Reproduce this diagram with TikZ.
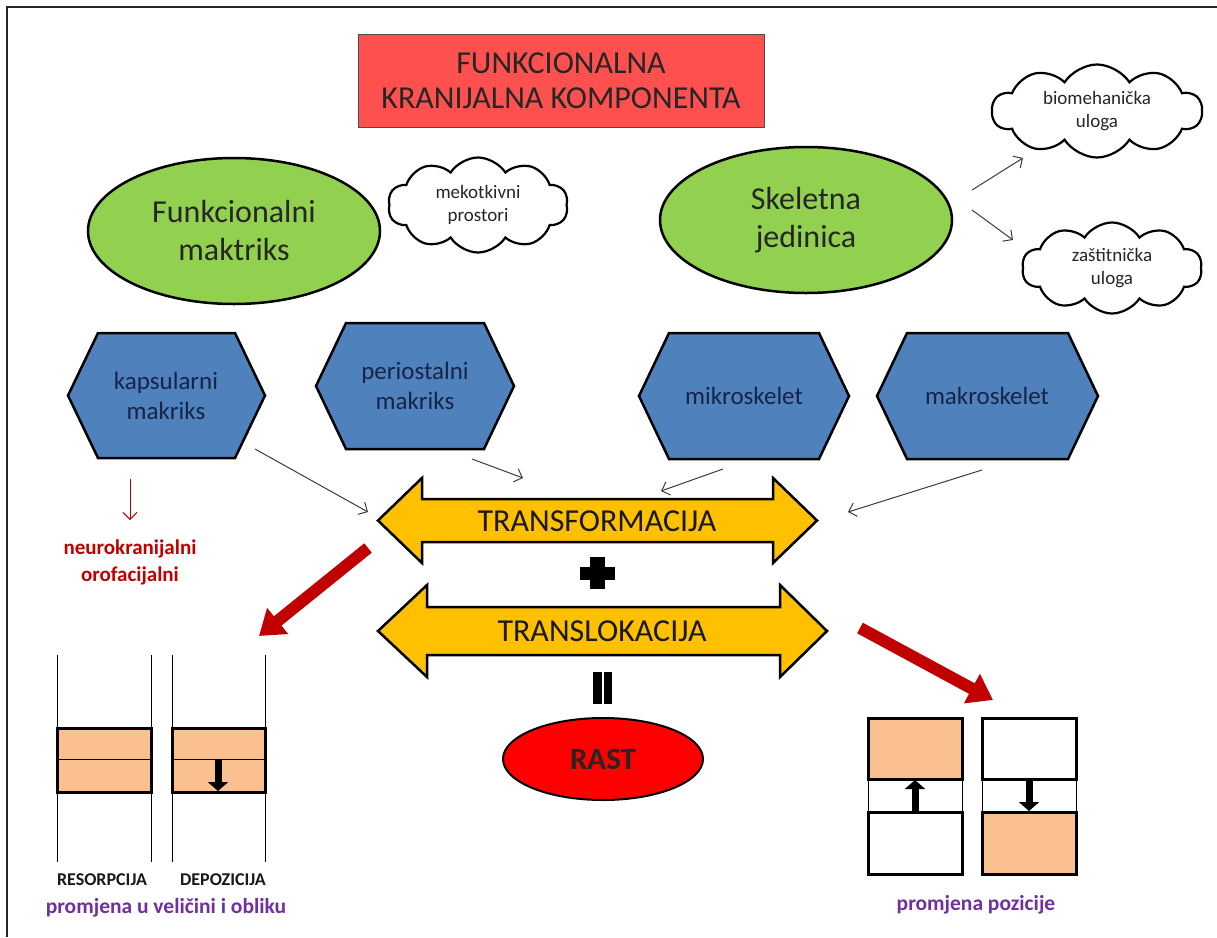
\documentclass[tikz,border=0pt]{standalone}
\usepackage{fontspec}
\setmainfont{Carlito}
\usetikzlibrary{shapes.geometric,shapes.symbols,arrows.meta}
\definecolor{titlered}{RGB}{255,80,80}
\definecolor{elgreen}{RGB}{146,208,80}
\definecolor{hexblue}{RGB}{79,129,189}
\definecolor{hextext}{RGB}{22,36,72}
\definecolor{arrowyellow}{RGB}{255,192,0}
\definecolor{darkred}{RGB}{192,0,0}
\definecolor{peach}{RGB}{250,192,144}
\definecolor{purpletext}{RGB}{112,48,160}
\definecolor{connector}{RGB}{60,60,60}
\newcommand\hexshape[4]{%
  \draw[hexbox] (#1,{(#2+#4)/2}) -- ({#1+30},#2) -- ({#3-30},#2) -- (#3,{(#2+#4)/2}) -- ({#3-30},#4) -- ({#1+30},#4) -- cycle;}
\begin{document}
\begin{tikzpicture}[x=1pt,y=-1pt,
  greenell/.style={ellipse, draw=black, line width=2.5pt, fill=elgreen, minimum width=292pt, minimum height=146pt, inner sep=0pt, align=center, text=black!85, font=\fontsize{32}{38}\selectfont},
  cloudbox/.style={cloud, cloud puffs=10, cloud puff arc=115, draw=black, line width=2.2pt, fill=white, inner sep=0pt, align=center, text=black!85, font=\fontsize{19}{23}\selectfont},
  hexbox/.style={draw=black, line width=2.5pt, fill=hexblue, line join=miter},
  hexlabel/.style={align=center, text=hextext, font=\fontsize{25}{30}\selectfont},
  bigarrow/.style={draw=black, line width=2.5pt, fill=arrowyellow, line join=miter},
  arrowlabel/.style={text=black!90, font=\fontsize{32}{38}\selectfont},
  thinarrow/.style={draw=connector, line width=1pt, -{Straight Barb[length=7pt,width=14pt]}},
  redthin/.style={draw=darkred, line width=1pt, -{Straight Barb[length=7pt,width=14pt]}},
  bigred/.style={draw=darkred, line width=12pt, -{Triangle[length=24pt,width=32pt]}},
  smallblack/.style={draw=black, line width=7pt, -{Triangle[length=9pt,width=20pt]}},
  thickbox/.style={draw=black, line width=3pt},
  guide/.style={draw=black, line width=1pt},
  caplabel/.style={text=black!90, font=\bfseries\fontsize{18}{22}\selectfont},
  purplelabel/.style={text=purpletext, font=\bfseries\fontsize{21.5}{25}\selectfont}
]
\useasboundingbox (0,0) rectangle (1217,937);
\fill[white] (0,0) rectangle (1217,937);
% frame
\draw[line width=2.5pt, black!85] (7,937) -- (7,7) -- (1217,7);

% title
\node[draw=black!70, line width=1pt, fill=titlered, minimum width=406pt, minimum height=93pt, inner sep=0pt, align=center, text=black!85, font=\fontsize{32}{35}\selectfont] (title) at (561,80.5) {FUNKCIONALNA\\KRANIJALNA KOMPONENTA};

% ellipses
\node[greenell] (fm) at (234,231) {Funkcionalni\\maktriks};
\node[greenell] (sj) at (806,220) {Skeletna\\jedinica};

% clouds
\node[cloudbox, minimum width=180pt, minimum height=95pt, aspect=1.9] (meko) at (478,205) {mekotkivni\\prostori};
\node[cloudbox, minimum width=210pt, minimum height=93pt, aspect=2.25] (bio) at (1097,111) {biomehanička\\uloga};
\node[cloudbox, minimum width=180pt, minimum height=91pt, aspect=2.0] (zas) at (1112,268) {zaštitnička\\uloga};

\coordinate (sjA) at (972,190); \coordinate (bioT) at (1023,158);
\coordinate (sjB) at (972,210); \coordinate (zasT) at (1013,240);
\draw[thinarrow] (sjA) -- (bioT);
\draw[thinarrow] (sjB) -- (zasT);

% hexagons
\hexshape{68}{333}{265}{458}
\node[hexlabel] (kaps) at (166,396) {kapsularni\\makriks};
\hexshape{316}{323}{514}{449}
\node[hexlabel] (perio) at (415,386) {periostalni\\makriks};
\hexshape{639}{333}{849}{459}
\node[hexlabel] (mikro) at (744,396) {mikroskelet};
\hexshape{877}{333}{1098}{459}
\node[hexlabel] (makro) at (987,396) {makroskelet};

% double arrows
\draw[bigarrow] (378,520.5) -- (422,478) -- (422,499) -- (773,499) -- (773,478) -- (817,520.5) -- (773,563) -- (773,542) -- (422,542) -- (422,563) -- cycle;
\node[arrowlabel] (transf) at (597,521) {TRANSFORMACIJA};
\draw[bigarrow] (378,631) -- (427,585) -- (427,607) -- (780,607) -- (780,585) -- (827,631) -- (780,677) -- (780,655) -- (427,655) -- (427,677) -- cycle;
\node[arrowlabel] (transl) at (602,631) {TRANSLOKACIJA};

% plus and equals
\fill[black] (590,557) rectangle (605,589);
\fill[black] (580,567) rectangle (615,580);
\fill[black] (593,672) rectangle (602,704);
\fill[black] (604,672) rectangle (612,704);

% RAST
\node[ellipse, draw=black, line width=2pt, fill=red, minimum width=200pt, minimum height=82pt, inner sep=0pt, text=black!85, font=\bfseries\fontsize{31}{36}\selectfont] (rast) at (603,759) {RAST};

% thin arrows into TRANSFORMACIJA
\coordinate (kapsA) at (255,449); \coordinate (kapsB) at (368,512);
\coordinate (perA) at (472,459); \coordinate (perB) at (523,478);
\coordinate (mikA) at (723,469); \coordinate (mikB) at (661,491);
\coordinate (makA) at (982,470); \coordinate (makB) at (848,512);
\draw[thinarrow] (kapsA) -- (kapsB);
\draw[thinarrow] (perA) -- (perB);
\draw[thinarrow] (mikA) -- (mikB);
\draw[thinarrow] (makA) -- (makB);

% red thin arrow and label
\coordinate (redA) at (130,479); \coordinate (redB) at (130,520);
\draw[redthin] (redA) -- (redB);
\node[align=center, text=darkred, font=\bfseries\fontsize{21}{27}\selectfont] (neuro) at (130,562) {neurokranijalni\\orofacijalni};

% big red arrows
\coordinate (rlS) at (368,548); \coordinate (rlE) at (259,636);
\coordinate (rrS) at (860,628); \coordinate (rrE) at (993,700);
\draw[bigred] (rlS) -- (rlE);
\draw[bigred] (rrS) -- (rrE);

% left diagram
\foreach \xx in {57,151,172,265} {\draw[guide] (\xx,655) -- (\xx,862);}
\draw[thickbox, fill=peach] (57,728) rectangle (151,792);
\draw[guide] (57,759) -- (151,759);
\draw[thickbox, fill=peach] (172,728) rectangle (265,792);
\draw[guide] (172,759) -- (265,759);
\coordinate (depA) at (218,759); \coordinate (depB) at (218,791);
\draw[smallblack] (depA) -- (depB);
\node[caplabel] (reso) at (102,880) {RESORPCIJA};
\node[caplabel] (depo) at (223,880) {DEPOZICIJA};
\node[purplelabel] (velic) at (166,908) {promjena u veličini i obliku};

% right diagram
\draw[guide] (868,779) rectangle (962,812);
\draw[guide] (982,779) rectangle (1076,812);
\draw[thickbox, fill=peach] (868,718) rectangle (962,779);
\draw[thickbox, fill=white] (868,812) rectangle (962,874);
\draw[thickbox, fill=white] (982,718) rectangle (1076,779);
\draw[thickbox, fill=peach] (982,812) rectangle (1076,874);
\coordinate (upA) at (915,811); \coordinate (upB) at (915,780);
\coordinate (dnA) at (1029,780); \coordinate (dnB) at (1029,811);
\draw[smallblack] (upA) -- (upB);
\draw[smallblack] (dnA) -- (dnB);
\node[purplelabel] (pozic) at (976,905) {promjena pozicije};
\end{tikzpicture}
\end{document}
